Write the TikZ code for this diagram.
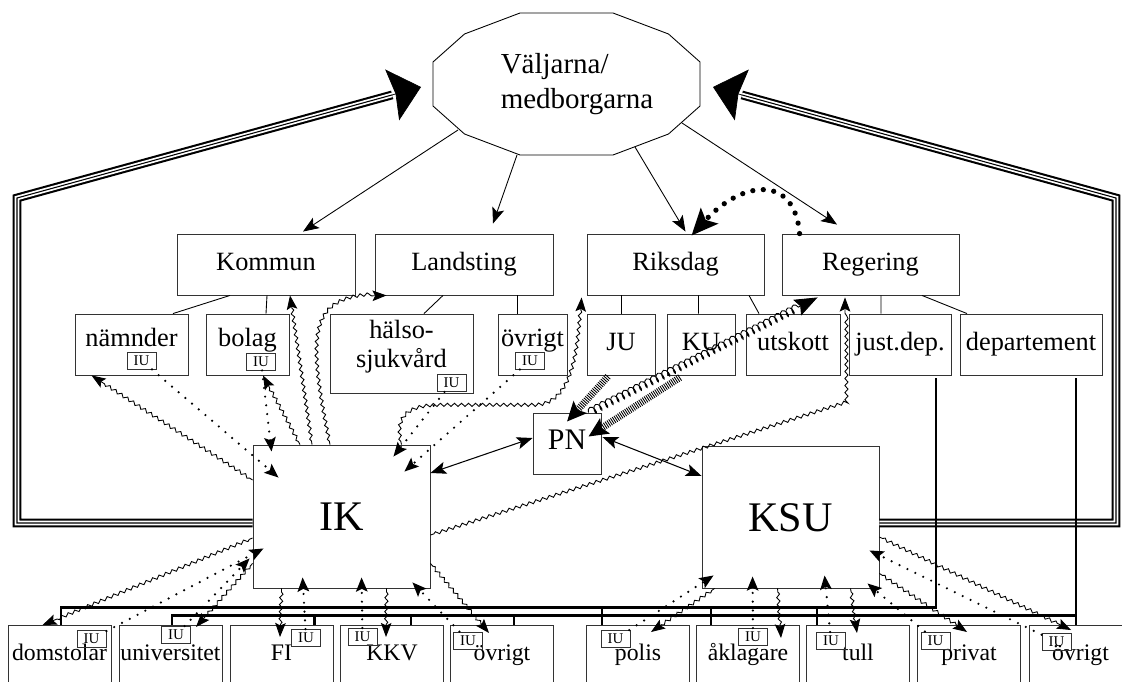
\documentclass[tikz,border=0pt]{standalone}
\usepackage{fontspec}
\setmainfont{Liberation Serif}
\usetikzlibrary{arrows.meta,positioning,decorations.pathmorphing,calc}
\tikzstyle{vote} = [line width=0.5pt, -{Stealth[length=9pt,width=7pt,inset=2pt]}]
\tikzstyle{wavy} = [decorate, decoration={snake, amplitude=0.9pt, segment length=4pt, pre length=2pt, post length=7pt}, line width=0.5pt, -{Stealth[length=8pt,width=6pt,inset=1.5pt]}]
\tikzstyle{dotline} = [line width=1.4pt, dash pattern=on 0pt off 5pt, line cap=round, -{Stealth[length=8pt,width=6.5pt,inset=1.5pt]}]
\tikzstyle{bigdots} = [line width=3pt, dash pattern=on 0pt off 6pt, line cap=round, -{Stealth[length=15pt,width=13pt,inset=3pt]}]
\tikzstyle{hatched} = [line width=4pt, dash pattern=on 0.5pt off 0.7pt, -{Stealth[length=11pt,width=10pt,inset=2pt]}]
\tikzstyle{coiled} = [decorate, decoration={coil, amplitude=2.3pt, segment length=3.6pt, post length=9pt}, line width=0.5pt, -{Stealth[length=13pt,width=10pt,inset=2pt]}]
\tikzstyle{twoway} = [line width=0.6pt, {Stealth[length=9pt,width=7pt,inset=2pt]}-{Stealth[length=9pt,width=7pt,inset=2pt]}]
\tikzstyle{triple} = [draw=white, line width=2.6pt, preaction={draw=black, line width=5pt}, postaction={draw=black, line width=0.6pt}]
\tikzstyle{bighead} = [line width=0.4pt, -{Stealth[length=17pt,width=30pt,inset=2pt]}]
\tikzstyle{feed} = [line width=1.5pt]
\begin{document}
\begin{tikzpicture}[x=0.02cm, y=-0.02cm,
  unitbox/.style 2 args={
    draw=black!80, line width=0.5pt, inner sep=0pt,
    minimum width=#1*0.02cm, minimum height=#2*0.02cm,
    text height=10.5pt, text depth=3.3pt,
    font=\fontsize{15}{17}\selectfont},
  leaf/.style={draw=black!80, line width=0.5pt, inner sep=0pt, anchor=north,
    minimum width=103*0.02cm, text height=19.8pt, text depth=25.5pt,
    font=\fontsize{13.5}{15}\selectfont},
  iu/.style={draw=black!80, line width=0.5pt, inner sep=0pt,
    minimum width=29*0.02cm, minimum height=17*0.02cm,
    font=\fontsize{8.5}{9}\selectfont}]
  \useasboundingbox (0,0) rectangle (1122,682);
  \clip (0,0) rectangle (1122,682);
  % draw the voters
  \node[align=left, font=\fontsize{16.5}{20}\selectfont] (V) at (577,84) {Väljarna/\\medborgarna};
  \draw[shift={(V.center)}, line width=0.5pt] (-57,-71) -- (36,-71) -- (91.5,-50) -- (123,-22) -- (123,22) -- (91.5,50)
    -- (36,71) -- (-57,71) -- (-112.5,50) -- (-144,22) -- (-144,-22) -- (-112.5,-50) -- cycle;
  % draw the four bodies
  \foreach \name/\txt/\x/\w in {kommun/Kommun/266/178, landsting/Landsting/464/178, riksdag/Riksdag/675.5/177, regering/Regering/870.5/177}
    \node[unitbox={\w}{61}] (\name) at (\x,264.5) {\txt};
  % draw the second row
  \foreach \name/\txt/\x/\w in {naemnder/nämnder/131.5/113, bolag/bolag/247.5/83, lovrigt/övrigt/532.5/69}
    \node[unitbox={\w}{61}, text depth=8pt] (\name) at (\x,344.5) {\txt};
  \node[unitbox={143}{79}, align=center, text height=27.5pt, text depth=11pt] (halso) at (401.5,353.5) {hälso-\\sjukvård};
  \foreach \name/\txt/\x/\w in {ju/JU/621/68, ku/KU/701/68, utskott/utskott/793/94, justdep/just.dep./900/102, dept/departement/1031/142}
    \node[unitbox={\w}{61}] (\name) at (\x,344.5) {\txt};
  % draw the supervisors
  \node[unitbox={177}{143}, font=\fontsize{24}{28}\selectfont, text height=16pt, text depth=0pt] (IK) at (341.5,516.5) {IK};
  \node[unitbox={177}{142}, font=\fontsize{24}{28}\selectfont, text height=16pt, text depth=0pt] (KSU) at (790.5,517) {KSU};
  \node[unitbox={68}{61}, font=\fontsize{17}{20}\selectfont, text height=11.3pt, text depth=5pt] (PN) at (567,443.5) {PN};
  % draw the bottom row
  \foreach \name/\txt/\x in {dom/domstolar/59.5, univ/universitet/170.5, fi/FI/281.5, kkv/KKV/392, iovr/övrigt/502,
      polis/polis/638, akl/åklagare/748, tull/tull/858, priv/privat/969, kovr/övrigt/1080.5}
    \node[leaf] (\name) at (\x,625) {\txt};
  % draw the IU tags
  \foreach \name/\x/\y in {naemnder/141.5/360.5, bolag/261/361.5, halso/451.5/383, lovrigt/530/360.5,
      dom/91.5/639, univ/176/635, fi/306/638, kkv/362.5/637, iovr/468/640.5,
      polis/615.5/639, akl/753/637, tull/831/641, priv/935.5/640.5, kovr/1056.5/642}
    \node[iu] (iu\name) at (\x,\y) {IU};
  % voters elect the bodies
  \draw[vote] ([shift={(-119,46)}]V.center) -- ([shift={(37,-2)}]kommun.north);
  \draw[vote] ([shift={(-60,71)}]V.center) -- ([shift={(29,-10)}]landsting.north);
  \draw[vote] ([shift={(58,63)}]V.center) -- ([shift={(10,-2)}]riksdag.north);
  \draw[vote] ([shift={(105,39)}]V.center) -- ([shift={(-33.5,-9)}]regering.north);
  \draw[bigdots] ([shift={(18,0)}]regering.north west) .. controls +(-5,-60) and +(50,-55) .. ([shift={(16,2)}]riksdag.north);
  % tree lines
  \foreach \a/\sa/\b/\sb in {kommun/-36/naemnder/41.5, kommun/1/bolag/18.5, landsting/-21/halso/22.5, landsting/53/lovrigt/-15.5,
      riksdag/-54.5/ju/0, riksdag/23/ku/-2.5, riksdag/73.5/utskott/-34, regering/10.5/justdep/-19, regering/51.5/dept/-64}
    \draw[line width=0.5pt] ([shift={(\sa,0)}]\a.south) -- ([shift={(\sb,0)}]\b.north);
  % reports back to the voters
  \coordinate (lbend) at (17,198);
  \coordinate (rbend) at (1116,198);
  \coordinate (ltip) at ([shift={(-156,3)}]V.center);
  \coordinate (rtip) at ([shift={(136,3)}]V.center);
  \draw[triple] ([shift={(0,6.5)}]IK.west) -| (lbend) -- ($(ltip)!17pt!(lbend)$);
  \draw[triple] ([shift={(0,6)}]KSU.east) -| (rbend) -- ($(rtip)!17pt!(rbend)$);
  \draw[bighead] ($(ltip)!17pt!(lbend)$) -- (ltip);
  \draw[bighead] ($(rtip)!17pt!(rbend)$) -- (rtip);
  % departments feed the agencies
  \draw[feed] ([shift={(36,3)}]justdep.south) -- ++(0,229) -| ([shift={(1.5,0)}]dom.north);
  \foreach \n/\s in {polis/16, akl/15, tull/11}
    \draw[feed] ([shift={(\s,0)}]\n.north west) -- ++(0,-18);
  \draw[feed] ([shift={(45,3)}]dept.south) -- ([shift={(-4.5,0)}]kovr.north);
  \draw[feed] ([shift={(45,240)}]dept.south) -| ([shift={(1.5,0)}]univ.north);
  \foreach \n/\s in {fi/85, kkv/71, iovr/64}
    \draw[feed] ([shift={(\s,0)}]\n.north west) -- ++(0,-10);
  % IK upwards
  \draw[wavy] ([shift={(0,-36.5)}]IK.west) -- ([shift={(17,0)}]naemnder.south west);
  \draw[dotline] (iunaemnder) -- ([shift={(26,33)}]IK.north west);
  \draw[dotline] (iubolag) -- ([shift={(19,7)}]IK.north west);
  \draw[wavy] ([shift={(-41.5,0)}]IK.north) -- ([shift={(15.5,0)}]bolag.south);
  \draw[wavy] ([shift={(-29.5,0)}]IK.north) -- ([shift={(24,0)}]kommun.south);
  \draw[wavy] ([shift={(-11.5,0)}]IK.north) .. controls +(-25,-120) and +(-75,0) .. ([shift={(12,0)}]landsting.south west);
  \draw[dotline] (iuhalso) -- ([shift={(-37,12)}]IK.north east);
  \draw[dotline] (iulovrigt) -- ([shift={(-26,27)}]IK.north east);
  \draw[wavy] ([shift={(60,0)}]IK.north) .. controls +(-10,-40) and +(-20,0) .. ++(48,-38) -- ++(85,0)
    .. controls +(40,0) and +(-3,50) .. ([shift={(-5,2)}]riksdag.south west);
  \draw[wavy] ([shift={(0,18.5)}]IK.east) -- ([shift={(-25.5,107)}]regering.south) -- ([shift={(-25.5,2)}]regering.south);
  % PN links
  \draw[twoway] ([shift={(0,-43.5)}]IK.east) -- ([shift={(0,-5.5)}]PN.west);
  \draw[twoway] ([shift={(1,-6.5)}]PN.east) -- ([shift={(0,-41)}]KSU.west);
  \draw[hatched] ([shift={(-13,1)}]ju.south) -- ([shift={(0,9)}]PN.north);
  \draw[hatched] ([shift={(-21,2)}]ku.south) -- ([shift={(-13,24)}]PN.north east);
  \draw[coiled] ([shift={(-13,0)}]PN.north east) -- ([shift={(36,2)}]regering.south west);
  % IK downwards
  \draw[wavy] ([shift={(0,21.5)}]IK.west) -- ([shift={(35,0)}]dom.north west);
  \draw[dotline] (iudom) -- ([shift={(11,-40)}]IK.south west);
  \draw[dotline] (iuuniv) -- ([shift={(-3,-30)}]IK.south west);
  \draw[wavy] ([shift={(0,-25)}]IK.south west) -- ([shift={(25.5,2)}]univ.north);
  \draw[wavy] ([shift={(29,0)}]IK.south west) -- ([shift={(-1.5,12)}]fi.north);
  \draw[dotline] (iufi) -- ([shift={(50,-11)}]IK.south west);
  \draw[dotline] (iukkv) -- ([shift={(109,-11)}]IK.south west);
  \draw[wavy] ([shift={(134,0)}]IK.south west) -- ([shift={(-6,12)}]kkv.north);
  \draw[dotline] (iuiovr) -- ([shift={(-18,-6)}]IK.south east);
  \draw[wavy] ([shift={(0,-25)}]IK.south east) -- ([shift={(-13,8)}]iovr.north);
  % KSU downwards
  \draw[dotline] (iupolis) -- ([shift={(12,-13)}]KSU.south west);
  \draw[wavy] ([shift={(13,0)}]KSU.south west) -- ([shift={(13,7)}]polis.north);
  \draw[dotline] (iuakl) -- ([shift={(51,-12)}]KSU.south west);
  \draw[wavy] ([shift={(76,0)}]KSU.south west) -- ([shift={(33,13)}]akl.north);
  \draw[dotline] (iutull) -- ([shift={(123,-13)}]KSU.south west);
  \draw[wavy] ([shift={(149,0)}]KSU.south west) -- ([shift={(-1,8)}]tull.north);
  \draw[dotline] (iupriv) -- ([shift={(-12,-5)}]KSU.south east);
  \draw[wavy] ([shift={(0,-15)}]KSU.south east) -- ([shift={(-2,7)}]priv.north);
  \draw[dotline] (iukovr) -- ([shift={(-10,-38)}]KSU.south east);
  \draw[wavy] ([shift={(0,20)}]KSU.east) -- ([shift={(-9.5,5)}]kovr.north);
\end{tikzpicture}
\end{document}
